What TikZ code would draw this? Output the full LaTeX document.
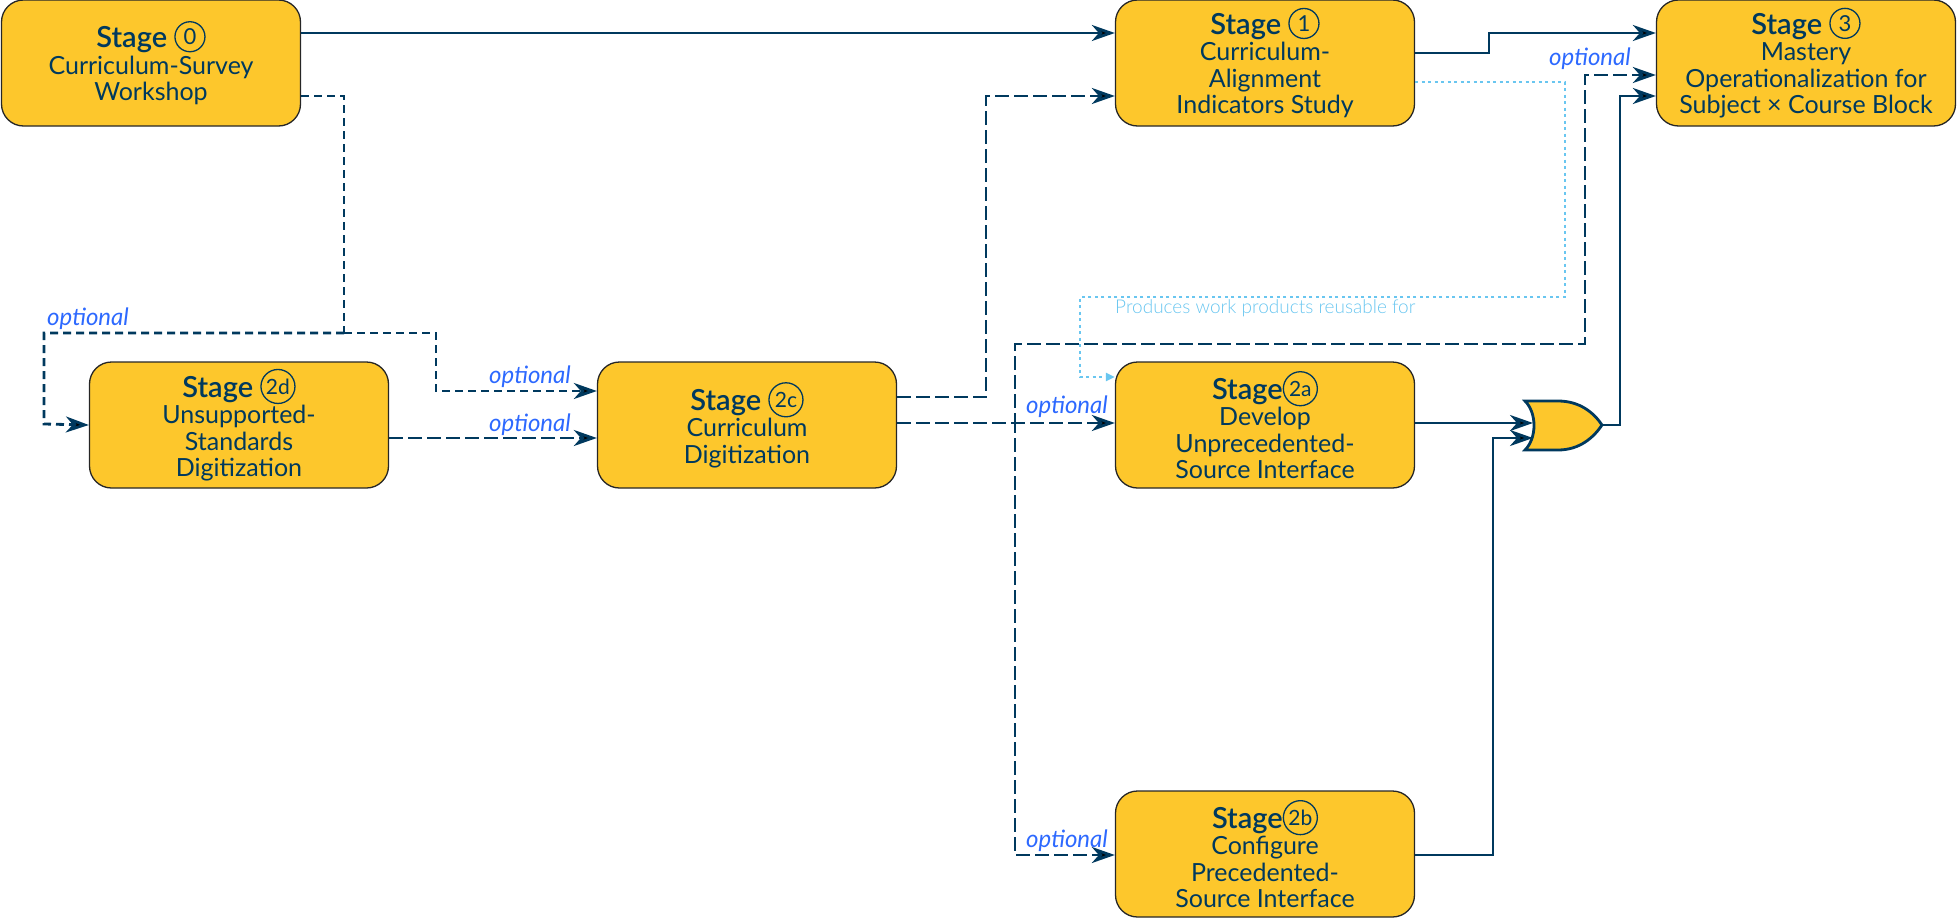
\documentclass[tikz,border=0pt]{standalone}
\usepackage{fontspec}
\setmainfont{Lato}
\newfontfamily\lightfont{Lato Light}
\newfontfamily\semifont{Lato Semibold}
\usetikzlibrary{arrows.meta,calc}

\definecolor{navy}{RGB}{0,57,94}
\definecolor{boxfill}{RGB}{253,199,44}
\definecolor{optblue}{RGB}{45,105,255}
\definecolor{reuseblue}{RGB}{105,198,240}

% circled stage numbers
\newcommand\stagenum[1]{\tikz[baseline={([yshift=-3pt]sn.base)}]\node[circle,draw=navy,line width=1.3pt,inner sep=0pt,minimum size=30pt,font=\fontsize{22}{22}\selectfont\rmfamily\mdseries](sn){#1};}
\newcommand\stagesub[1]{\tikz[baseline={([yshift=-3pt]sn.base)}]\node[circle,draw=navy,line width=1.3pt,inner sep=0pt,minimum size=34pt,font=\fontsize{21}{21}\selectfont\rmfamily\mdseries](sn){\hspace{-1.5pt}#1\hspace{-1.5pt}};}
\newcommand\titlefont{\fontsize{29}{28.5}\selectfont\semifont}

\begin{document}
\begin{tikzpicture}[x=1pt,y=-1pt,
  stagebox/.style={draw=black!85,line width=1.3pt,fill=boxfill,rounded corners=22pt,
    minimum width=299pt,minimum height=126pt,align=center,text=navy,inner sep=2pt,
    font=\fontsize{25}{26.5}\selectfont},
  tip/.style={-{Stealth[length=23pt,width=16pt,inset=7pt]}},
  flow/.style={draw=navy,line width=2.8pt,tip},
  optshort/.style={draw=navy,line width=2.8pt,dash pattern=on 8pt off 5pt},
  optlong/.style={draw=navy,line width=2.8pt,dash pattern=on 14pt off 5pt},
  reuse/.style={draw=reuseblue,line width=2.8pt,dash pattern=on 3pt off 3.5pt,
    -{Triangle[length=9pt,width=8pt]}},
  opt/.style={text=optblue,font=\fontsize{24}{24}\selectfont\itshape,inner sep=0pt},
  reusetxt/.style={text=reuseblue,font=\fontsize{19}{19}\selectfont\lightfont,inner sep=0pt}
]
\useasboundingbox (0,0) rectangle (1957,918);

% stages
\node[stagebox] (s0)  at (151,63)  {{\titlefont Stage \stagenum{0}}\\Curriculum-Survey\\Workshop};
\node[stagebox] (s1)  at (1265,63) {{\titlefont Stage \stagenum{1}}\\Curriculum-\\Alignment\\Indicators Study};
\node[stagebox] (s3)  at (1806,63) {{\titlefont Stage \stagenum{3}}\\Mastery\\Operationalization for\\Subject × Course Block};
\node[stagebox] (s2d) at (239,425) {{\titlefont Stage \stagesub{2d}}\\Unsupported-\\Standards\\Digitization};
\node[stagebox] (s2c) at (747,425) {{\titlefont Stage \stagesub{2c}}\\Curriculum\\Digitization};
\node[stagebox] (s2a) at (1265,425) {{\titlefont Stage\stagesub{2a}}\\Develop\\Unprecedented-\\Source Interface};
\node[stagebox] (s2b) at (1265,854) {{\titlefont Stage\stagesub{2b}}\\Configure\\Precedented-\\Source Interface};

% OR gate joining the two interface stages
\coordinate (gin1) at (1533,423);
\coordinate (gin2) at (1533,438);
\coordinate (gout) at (1602,425);
\draw[navy,line width=2.8pt,fill=boxfill]
  (1525,401) -- (1558,401) .. controls (1580,401) and (1594,413) .. (gout)
  .. controls (1594,437) and (1580,450) .. (1558,450) -- (1525,450)
  .. controls (1537,438) and (1537,413) .. (1525,401) -- cycle;

% stage 0 links
\draw[flow] ($(s0.east)+(0,-30)$) -- ($(s1.west)+(0,-30)$);
\draw[optshort] ($(s0.east)+(0,33)$) -| (344,333) coordinate (j0);
\draw[optshort,tip] (j0) -| (44,424) -- (s2d.west);
\draw[optshort,tip] (j0) -| (436,391) -- ($(s2c.west)+(0,-34)$);
\node[opt,anchor=base west] (o1) at (47,325) {optional};
\node[opt,anchor=base east] (o2) at (571,383) {optional};

% stage 2d link
\draw[optlong,tip] ($(s2d.east)+(0,13)$) -- ($(s2c.west)+(0,13)$);
\node[opt,anchor=base east] (o3) at (571,431) {optional};

% stage 2c links
\draw[optlong,tip] ($(s2c.east)+(0,-28)$) -| (986,96) -- ($(s1.west)+(0,33)$);
\draw[optlong,tip] ($(s2c.east)+(0,-2)$) -- ($(s2a.west)+(0,-2)$);
\draw[optlong,tip] ($(s2c.east)+(0,-2)$) -| (1015,344) -| (1585,75) -- ($(s3.west)+(0,12)$);
\draw[optlong,tip] ($(s2c.east)+(0,-2)$) -| (1015,855) -- ($(s2b.west)+(0,1)$);
\node[opt,anchor=base east] (o4) at (1108,413) {optional};
\node[opt,anchor=base east] (o5) at (1108,847) {optional};
\node[opt,anchor=base east] (o6) at (1631,65) {optional};

% stage 1 links
\draw[flow] ($(s1.east)+(0,-10)$) -| (1489,33) -- ($(s3.west)+(0,-30)$);
\draw[reuse] ($(s1.east)+(0,19)$) -| (1565,297) -| (1080,377) -- ($(s2a.west)+(0,-48)$);
\node[reusetxt,anchor=base west] (r1) at (1115,313) {Produces work products reusable for};

% interface stages into the gate, gate into stage 3
\draw[flow] ($(s2a.east)+(0,-2)$) -- (gin1);
\draw[flow] ($(s2b.east)+(0,1)$) -| (1493,438) -- (gin2);
\draw[flow] (gout) -| (1620,96) -- ($(s3.west)+(0,33)$);
\end{tikzpicture}
\end{document}
